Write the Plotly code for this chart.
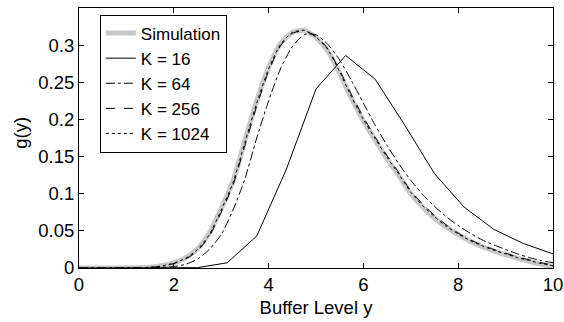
import plotly.graph_objects as go

# Fine x grid (step 0.25) for simulation and K = 64/256/1024
x_grid = [i * 0.25 for i in range(41)]
simulation = [0, 0, 0, 0, 0.0002, 0.0005, 0.001, 0.003,
              0.007, 0.014, 0.026, 0.047, 0.080, 0.117, 0.172, 0.225,
              0.270, 0.302, 0.317, 0.320, 0.310, 0.292, 0.262, 0.228,
              0.198, 0.172, 0.147, 0.124, 0.100, 0.082, 0.067, 0.055,
              0.045, 0.036, 0.029, 0.023, 0.018, 0.013, 0.009, 0.005, 0.002]
k1024 = [0, 0, 0, 0, 0.0002, 0.0005, 0.001, 0.0028,
         0.0065, 0.013, 0.025, 0.045, 0.078, 0.115, 0.169, 0.222,
         0.268, 0.301, 0.317, 0.320, 0.311, 0.294, 0.264, 0.230,
         0.200, 0.174, 0.149, 0.126, 0.102, 0.084, 0.069, 0.056,
         0.046, 0.037, 0.030, 0.024, 0.019, 0.014, 0.010, 0.006, 0.003]
k256 = [0, 0, 0, 0, 0.0002, 0.0004, 0.0009, 0.0025,
        0.006, 0.012, 0.023, 0.043, 0.075, 0.112, 0.165, 0.218,
        0.265, 0.299, 0.316, 0.319, 0.312, 0.295, 0.266, 0.233,
        0.203, 0.176, 0.151, 0.128, 0.104, 0.086, 0.071, 0.058,
        0.047, 0.038, 0.031, 0.025, 0.020, 0.015, 0.011, 0.007, 0.004]
k64 = [0, 0, 0, 0, 0, 0.0001, 0.0004, 0.001,
       0.002, 0.005, 0.012, 0.025, 0.045, 0.078, 0.120, 0.175,
       0.225, 0.268, 0.298, 0.314, 0.314, 0.301, 0.280, 0.252,
       0.222, 0.192, 0.165, 0.140, 0.118, 0.099, 0.083, 0.069,
       0.057, 0.047, 0.038, 0.031, 0.025, 0.019, 0.014, 0.010, 0.007]

# K = 16 evaluated on its coarse grid (step 10/16)
x_k16 = [i * 0.625 for i in range(17)]
k16 = [0, 0, 0, 0, 0.0005, 0.007, 0.043, 0.133, 0.241, 0.286, 0.254, 0.192,
       0.127, 0.082, 0.052, 0.033, 0.019]

x_ticks = [0, 2, 4, 6, 8, 10]
y_ticks = [0, 0.05, 0.1, 0.15, 0.2, 0.25, 0.3]
y_tick_labels = ["0", "0.05", "0.1", "0.15", "0.2", "0.25", "0.3"]

FS = 18.5
LEG_FS = 17

fig = go.Figure()
fig.add_trace(go.Scatter(x=x_grid, y=simulation, mode="lines", name="Simulation",
                         line=dict(color="#c8c8c8", width=5, shape="spline", smoothing=0.6)))
fig.add_trace(go.Scatter(x=x_k16, y=k16, mode="lines", name="K = 16",
                         line=dict(color="black", width=1)))
fig.add_trace(go.Scatter(x=x_grid, y=k64, mode="lines", name="K = 64",
                         line=dict(color="black", width=1, dash="dashdot", shape="spline", smoothing=0.6)))
fig.add_trace(go.Scatter(x=x_grid, y=k256, mode="lines", name="K = 256",
                         line=dict(color="black", width=1, dash="dash", shape="spline", smoothing=0.6)))
fig.add_trace(go.Scatter(x=x_grid, y=k1024, mode="lines", name="K = 1024",
                         line=dict(color="black", width=1, dash="dot", shape="spline", smoothing=0.6)))

axis_common = dict(showline=True, linecolor="black", linewidth=1, mirror="allticks",
                   ticks="inside", ticklen=5, tickcolor="black", showgrid=False, zeroline=False,
                   automargin=False, tickfont=dict(size=FS, color="black"))
fig.update_xaxes(range=[0, 10], tickvals=x_ticks, ticktext=[str(v) for v in x_ticks],
                 title=dict(text="Buffer Level y", font=dict(size=FS, color="black"), standoff=6),
                 **axis_common)
fig.update_yaxes(range=[0, 0.35], tickvals=y_ticks, ticktext=y_tick_labels, **axis_common)
fig.add_annotation(text="g(y)", xref="paper", yref="paper", x=-0.1224, y=0.52,
                   xanchor="center", yanchor="middle", textangle=-90, showarrow=False,
                   font=dict(size=FS, color="black"))
fig.update_layout(
    width=564, height=322,
    margin=dict(l=79, r=11, t=8, b=54),
    paper_bgcolor="white", plot_bgcolor="white",
    font=dict(family="Liberation Sans, Arial, sans-serif", color="black"),
    legend=dict(x=0.044, y=0.975, xanchor="left", yanchor="top",
                bgcolor="white", bordercolor="black", borderwidth=1,
                font=dict(size=LEG_FS, color="black"), itemwidth=30, tracegroupgap=0),
    showlegend=True,
)
fig.write_html("out.html", config={"displayModeBar": False},
               post_script="document.body.style.margin='0';document.body.style.overflow='hidden';")
